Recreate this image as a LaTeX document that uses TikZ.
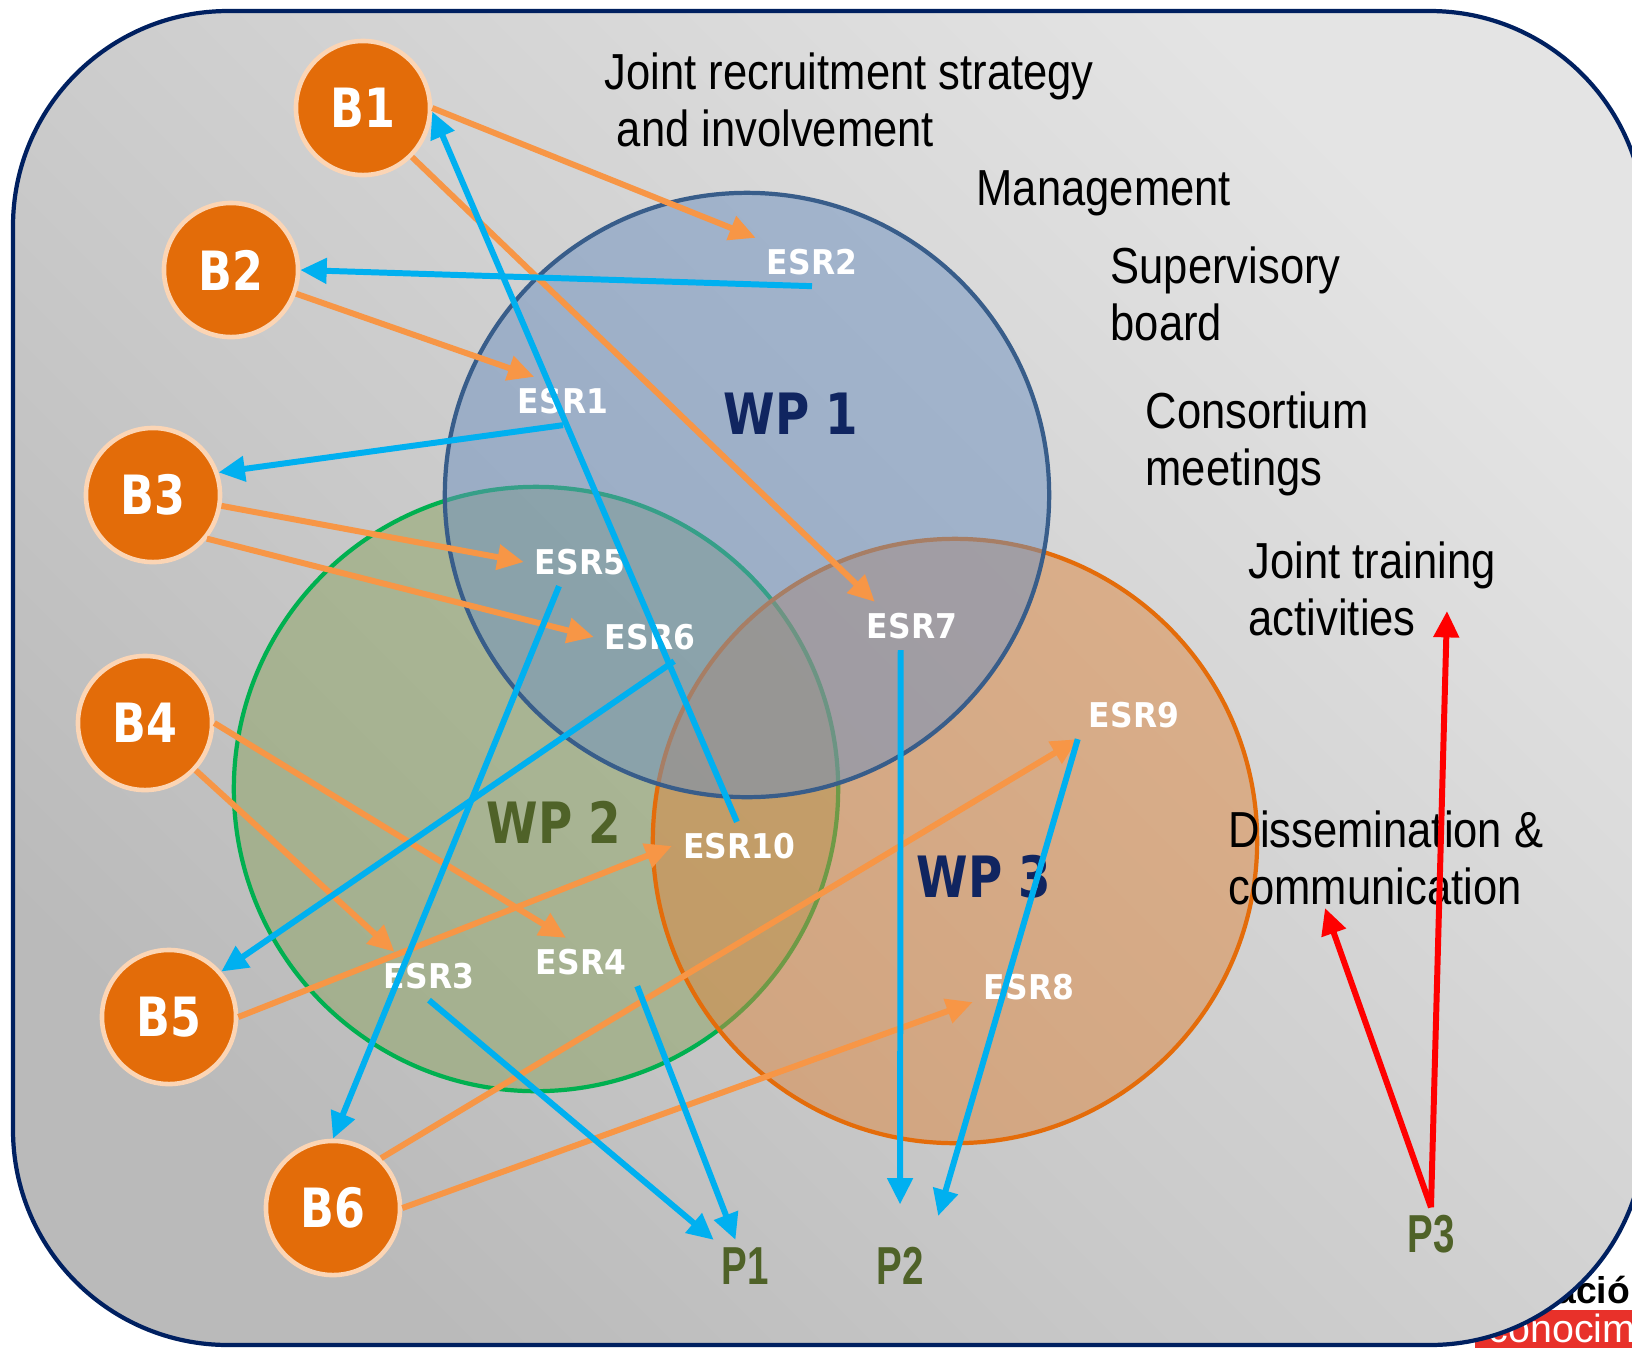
\documentclass[tikz,border=0pt]{standalone}
\usepackage{fontspec}
\usetikzlibrary{arrows.meta}
\newfontfamily\narrowfont[FakeStretch=0.86]{Liberation Sans}
\newfontfamily\tagfont[FakeStretch=0.82]{DejaVu Sans}
\newfontfamily\esrfont[FakeStretch=0.92]{DejaVu Sans}
\newfontfamily\pfont[FakeStretch=0.72]{Liberation Sans}
\definecolor{frame}{RGB}{0,32,96}
\definecolor{bgtop}{RGB}{228,228,228}
\definecolor{bgbot}{RGB}{186,186,186}
\definecolor{borange}{RGB}{227,108,9}
\definecolor{bpeach}{RGB}{251,213,181}
\definecolor{wpone}{RGB}{108,144,192}
\definecolor{wponeline}{RGB}{56,93,138}
\definecolor{wptwo}{RGB}{138,162,96}
\definecolor{wptwoline}{RGB}{0,176,80}
\definecolor{wpthree}{RGB}{220,134,62}
\definecolor{wpthreeline}{RGB}{228,108,10}
\definecolor{navy}{RGB}{16,37,96}
\definecolor{olive}{RGB}{79,98,40}
\definecolor{arrorange}{RGB}{247,150,70}
\definecolor{arrblue}{RGB}{0,176,240}
\definecolor{logored}{RGB}{232,49,42}
\tikzset{
	bnode/.style={circle,fill=borange,draw=bpeach,line width=1.3pt,minimum size=1.34cm,inner sep=0pt,text=white,font=\tagfont\bfseries\fontsize{15.4pt}{16pt}\selectfont},
	esr/.style={inner sep=3pt,text=white,font=\esrfont\bfseries\fontsize{9.7pt}{11pt}\selectfont},
	wpcircle/.style={circle,line width=1.2pt,minimum size=6.04cm,fill opacity=0.5,draw opacity=1},
	wplab/.style={font=\tagfont\bfseries\fontsize{16.2pt}{17pt}\selectfont},
	plab/.style={inner sep=2pt,text=olive,font=\pfont\bfseries\fontsize{15.2pt}{16pt}\selectfont},
	txt/.style={anchor=north west,inner sep=0pt,align=left,font=\narrowfont\fontsize{14.4pt}{16.2pt}\selectfont},
	oarr/.style={draw=arrorange,line width=1.7pt,-{Triangle[length=7.5pt,width=7pt]}},
	barr/.style={draw=arrblue,line width=1.7pt,-{Triangle[length=7.5pt,width=7pt]}},
	rarr/.style={draw=red,line width=1.7pt,-{Triangle[length=7.5pt,width=7pt]}}
}
\begin{document}
\begin{tikzpicture}[x=0.01cm,y=-0.01cm]
	\useasboundingbox (0,0) rectangle (1632,1347);
	% logo behind the frame
	\fill[logored] (1475,1310) rectangle (1640,1350);
	\node[anchor=base west,inner sep=0pt,font=\fontspec{Liberation Sans}\bfseries\fontsize{10.6pt}{11pt}\selectfont](logoa) at (1534,1303){cación};
	\node[anchor=base west,inner sep=0pt,text=white,font=\fontspec{Liberation Sans}\fontsize{11.2pt}{12pt}\selectfont](logob) at (1488,1342){conocim};
	% frame
	\draw[draw=frame,line width=1.2pt,top color=bgtop,bottom color=bgbot,shading angle=-45,rounded corners=2.15cm] (13,11) rectangle (1645,1345);
	% work packages
	\node[wpcircle,draw=wptwoline,fill=wptwo](wp2) at (536,789){};
	\node[wpcircle,draw=wpthreeline,fill=wpthree](wp3) at (955,841){};
	\node[wpcircle,draw=wponeline,fill=wpone](wp1) at (747,495){};
	\node[wplab,text=navy](wp1lab) at (791,414){WP 1};
	\node[wplab,text=olive](wp2lab) at (554,822){WP 2};
	\node[wplab,text=navy](wp3lab) at (984,877){WP 3};
	% activities
	\node[txt](recruit) at (604,52){Joint recruitment strategy\\\ and involvement};
	\node[txt](manage) at (976,170){Management};
	\node[txt](superv) at (1110,246){Supervisory\\board};
	\node[txt](consort) at (1145,391){Consortium\\meetings};
	\node[txt](training) at (1248,541){Joint training\\activities};
	\node[txt](dissem) at (1228,810){Dissemination \&\\communication};
	% beneficiaries
	\node[bnode](b1) at (363,108){B1};
	\node[bnode](b2) at (231,270){B2};
	\node[bnode](b3) at (153,495){B3};
	\node[bnode](b4) at (145,723){B4};
	\node[bnode](b5) at (169,1017){B5};
	\node[bnode](b6) at (333,1208){B6};
	% researchers
	\node[esr](esr1) at (563,401){ESR1};
	\node[esr](esr2) at (812,262){ESR2};
	\node[esr](esr3) at (429,976){ESR3};
	\node[esr](esr4) at (581,962){ESR4};
	\node[esr](esr5) at (580,562){ESR5};
	\node[esr](esr6) at (650,637){ESR6};
	\node[esr](esr7) at (912,626){ESR7};
	\node[esr](esr8) at (1029,987){ESR8};
	\node[esr](esr9) at (1134,715){ESR9};
	\node[esr](esr10) at (739,846){ESR10};
	% partners
	\node[plab](p1) at (745,1266){P1};
	\node[plab](p2) at (900,1266){P2};
	\node[plab](p3) at (1431,1234){P3};
	\coordinate(trainingend) at (1447,611);
	\coordinate(dissemend) at (1325,908);
	% recruitment
	\draw[oarr](b1.0)--(esr2.north west);
	\draw[oarr](b1.-45)--(esr7.147);
	\draw[oarr](b2.-20)--(esr1.140);
	\draw[oarr](b3.-9)--(esr5.west);
	\draw[oarr](b3.-39)--(esr6.west);
	\draw[oarr](b4.0)--(esr4.122);
	\draw[oarr](b4.-43)--(esr3.145);
	\draw[oarr](b5.0)--(esr10.west);
	\draw[oarr](b6.46)--(esr9.south west);
	\draw[oarr](b6.0)--(esr8.195);
	% secondments
	\draw[barr](esr2.south)--(b2.0);
	\draw[barr](esr1.south)--(b3.19);
	\draw[barr](esr10.95)--(b1.-3);
	\draw[barr](esr6.-45)--(b5.41);
	\draw[barr](esr5.-131)--(b6.90);
	\draw[barr](esr3.south)--(p1.north west);
	\draw[barr](esr4.south east)--(p1.110);
	\draw[barr,shorten >=10pt](esr7.-115)--(p2.north);
	\draw[barr,shorten >=7pt](esr9.south west)--(p2.north east);
	% P3 links
	\draw[rarr](p3.north)--(trainingend);
	\draw[rarr](p3.north)--(dissemend);
\end{tikzpicture}
\end{document}
